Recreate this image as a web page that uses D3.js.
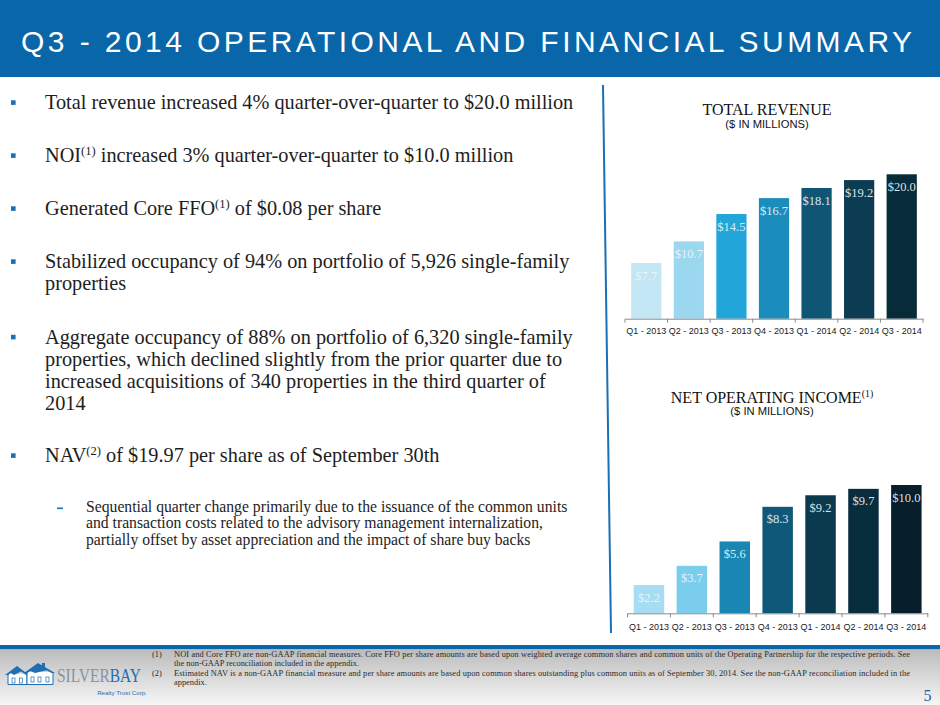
<!DOCTYPE html>
<html>
<head>
<meta charset="utf-8">
<script src="https://cdn.jsdelivr.net/npm/d3@7"></script>
<style>
  body { margin: 0; background: #fff; }
  svg { display: block; }
</style>
</head>
<body>
<svg id="slide" width="940" height="705"></svg>
<script>
// ---- data ----
var quarters = ["Q1 - 2013", "Q2 - 2013", "Q3 - 2013", "Q4 - 2013", "Q1 - 2014", "Q2 - 2014", "Q3 - 2014"];
var revenue = [7.7, 10.7, 14.5, 16.7, 18.1, 19.2, 20.0];
var noi = [2.2, 3.7, 5.6, 8.3, 9.2, 9.7, 10.0];

var revenueColors = ["#c3e6f5", "#9bd8f0", "#22a6d9", "#1b8dbc", "#0f5675", "#0b3c52", "#072b39"];
var noiColors = ["#a7ddf3", "#7bcdee", "#1a86b4", "#0f587a", "#0b3a4f", "#082d3d", "#061f2a"];

// bullet text, {n} marks a superscript footnote reference
var bullets = [
  ["Total revenue increased 4% quarter-over-quarter to $20.0 million"],
  ["NOI{1} increased 3% quarter-over-quarter to $10.0 million"],
  ["Generated Core FFO{1} of $0.08 per share"],
  ["Stabilized occupancy of 94% on portfolio of 5,926 single-family", "properties"],
  ["Aggregate occupancy of 88% on portfolio of 6,320 single-family",
   "properties, which declined slightly from the prior quarter due to",
   "increased acquisitions of 340 properties in the third quarter of",
   "2014"],
  ["NAV{2} of $19.97 per share as of September 30th"]
];
var subBullet = [
  "Sequential quarter change primarily due to the issuance of the common units",
  "and transaction costs related to the advisory management internalization,",
  "partially offset by asset appreciation and the impact of share buy backs"
];
var footnotes = [
  ["(1)", "NOI and Core FFO are non-GAAP financial measures. Core FFO per share amounts are based upon weighted average common shares and common units of the Operating Partnership for the respective periods. See",
          "the non-GAAP reconciliation included in the appendix."],
  ["(2)", "Estimated NAV is a non-GAAP financial measure and per share amounts are based upon common shares outstanding plus common units as of September 30, 2014. See the non-GAAP reconciliation included in the",
          "appendix."]
];

var blue = "#0866a9";
var serif = "'Liberation Serif', 'DejaVu Serif', serif";
var sans = "'Liberation Sans', Arial, sans-serif";

var svg = d3.select("#slide");
var defs = svg.append("defs");

// header band
svg.append("rect").attr("x", 0).attr("y", 0).attr("width", 940).attr("height", 77).attr("fill", blue);
svg.append("text")
  .attr("x", 21).attr("y", 52)
  .attr("textLength", 891).attr("lengthAdjust", "spacing")
  .style("font-family", sans).style("font-size", "30px").style("fill", "#fff")
  .text("Q3 - 2014 OPERATIONAL AND FINANCIAL SUMMARY");

// writes a line, turning {n} into a small raised "(n)"
function richLine(sel, str, size) {
  var parts = str.split(/\{(\d)\}/);
  var shift = size * 0.36, raised = false;
  parts.forEach(function(p, i) {
    if (p === "") return;
    var ts = sel.append("tspan");
    if (i % 2 === 1) {
      ts.attr("dy", -shift).style("font-size", (size * 0.62) + "px").text("(" + p + ")");
      raised = true;
    } else {
      if (raised) { ts.attr("dy", shift); raised = false; }
      ts.text(p);
    }
  });
}

// bullets
var bulletTops = [109, 162, 215, 268, 343.5, 462];
var lineGap = 22.2;
var bodySize = 20.3;
bullets.forEach(function(lines, b) {
  svg.append("rect")
    .attr("x", 11).attr("y", bulletTops[b] - 8.7)
    .attr("width", 4.6).attr("height", 4.6).attr("fill", "#1a6fb5");
  lines.forEach(function(l, j) {
    var t = svg.append("text")
      .attr("x", 45).attr("y", bulletTops[b] + j * lineGap)
      .style("font-family", serif).style("font-size", bodySize + "px").style("fill", "#1e1e1e");
    richLine(t, l, bodySize);
  });
});

svg.append("rect").attr("x", 57).attr("y", 507.5).attr("width", 6).attr("height", 1.6).attr("fill", "#1a6fb5");
subBullet.forEach(function(l, j) {
  svg.append("text")
    .attr("x", 86).attr("y", 511.7 + j * 16.7)
    .style("font-family", serif).style("font-size", "15.7px").style("fill", "#1e1e1e")
    .text(l);
});

// divider
svg.append("line")
  .attr("x1", 603).attr("y1", 85).attr("x2", 611).attr("y2", 633)
  .attr("stroke", "#1a6fb5").attr("stroke-width", 2);

// bar chart panel
function barChart(cfg) {
  var g = svg.append("g");
  var x = d3.scaleBand().domain(quarters).range(cfg.xRange).paddingInner(0.29).paddingOuter(0.145);
  var y = d3.scaleLinear().domain([0, cfg.max]).range([cfg.base, cfg.top]);

  var title = g.append("text")
    .attr("x", cfg.cx).attr("y", cfg.titleY).attr("text-anchor", "middle")
    .style("font-family", serif).style("font-size", "16px").style("fill", "#111");
  richLine(title, cfg.title, 16);
  g.append("text")
    .attr("x", cfg.cx).attr("y", cfg.titleY + 12.7).attr("text-anchor", "middle")
    .style("font-family", sans).style("font-size", "11.2px").style("fill", "#111")
    .text("($ IN MILLIONS)");

  g.selectAll("rect.bar").data(cfg.values).enter().append("rect")
    .attr("class", "bar")
    .attr("x", function(d, i) { return x(quarters[i]); })
    .attr("y", function(d) { return y(d); })
    .attr("width", x.bandwidth())
    .attr("height", function(d) { return y(0) - y(d); })
    .attr("fill", function(d, i) { return cfg.colors[i]; });

  g.selectAll("text.val").data(cfg.values).enter().append("text")
    .attr("class", "val")
    .attr("x", function(d, i) { return x(quarters[i]) + x.bandwidth() / 2; })
    .attr("y", function(d) { return y(d) + 16.5; })
    .attr("text-anchor", "middle")
    .style("font-family", serif).style("font-size", "12.5px")
    .style("fill", "#eef7fc").style("fill-opacity", 0.92)
    .text(function(d) { return "$" + d3.format(".1f")(d); });

  // axis: labels under the bars, ticks on the band edges
  var ax = g.append("g").attr("transform", "translate(0," + y(0) + ")")
    .call(d3.axisBottom(x).tickSize(0).tickSizeOuter(0));
  ax.select(".domain").attr("stroke", "#8a8a8a");
  ax.selectAll("text")
    .attr("dy", null).attr("y", cfg.labelDy)
    .style("font-family", sans).style("font-size", "9px").style("fill", "#1a1a1a");
  ax.selectAll("line.edge").data(d3.range(quarters.length + 1)).enter().append("line")
    .attr("class", "edge")
    .attr("x1", function(i) { return cfg.xRange[0] + i * x.step(); })
    .attr("x2", function(i) { return cfg.xRange[0] + i * x.step(); })
    .attr("y1", 0).attr("y2", 4)
    .attr("stroke", "#8a8a8a");
}

barChart({
  title: "TOTAL REVENUE", cx: 767, titleY: 114.8,
  values: revenue, colors: revenueColors,
  xRange: [625, 923], base: 318.7, top: 174.3, max: 20, labelDy: 15
});
barChart({
  title: "NET OPERATING INCOME{1}", cx: 772, titleY: 402.7,
  values: noi, colors: noiColors,
  xRange: [627.5, 927.8], base: 613.3, top: 485, max: 10, labelDy: 17
});

// footer
var grad = defs.append("linearGradient").attr("id", "foot").attr("x1", 0).attr("y1", 0).attr("x2", 0).attr("y2", 1);
grad.append("stop").attr("offset", "0%").attr("stop-color", "#bcbcbc");
grad.append("stop").attr("offset", "100%").attr("stop-color", "#f6f6f6");
svg.append("rect").attr("x", 0).attr("y", 645).attr("width", 940).attr("height", 4.5).attr("fill", blue);
svg.append("rect").attr("x", 0).attr("y", 649.5).attr("width", 940).attr("height", 55.5).attr("fill", "url(#foot)");

var noteY = [656.7, 675.7];
footnotes.forEach(function(n, k) {
  svg.append("text").attr("x", 152).attr("y", noteY[k])
    .style("font-family", serif).style("font-size", "8.4px").style("fill", "#2a2a2a").text(n[0]);
  svg.append("text").attr("x", 174).attr("y", noteY[k])
    .attr("textLength", 736).attr("lengthAdjust", "spacing")
    .style("font-family", serif).style("font-size", "8.4px").style("fill", "#2a2a2a").text(n[1]);
  svg.append("text").attr("x", 174).attr("y", noteY[k] + 9.2)
    .style("font-family", serif).style("font-size", "8.4px").style("fill", "#2a2a2a").text(n[2]);
});

// logo
var logo = svg.append("g");
var roof = "#1f6fb2";
// small house (left)
logo.append("path").attr("d", "M8,674 L8,684.5 L27,684.5 L27,674").attr("fill", "#fff").attr("stroke", roof).attr("stroke-width", 1);
logo.append("path").attr("d", "M5,675 L17,666 L29,675 L26,675 L17,668.5 L8,675 Z").attr("fill", roof);
logo.append("path").attr("d", "M10,672.5 L17,667.5 L22,671 L14,675 Z").attr("fill", roof);
// big house (right)
logo.append("path").attr("d", "M27,672 L27,684.5 L53,684.5 L53,672").attr("fill", "#fff").attr("stroke", roof).attr("stroke-width", 1);
logo.append("path").attr("d", "M24,673 L38,663 L55,673 L51.5,673 L38,665.5 L27.5,673 Z").attr("fill", roof);
logo.append("path").attr("d", "M29,670.5 L38,664.5 L48,670 L35,673 Z").attr("fill", roof);
logo.append("rect").attr("x", 42).attr("y", 663).attr("width", 3).attr("height", 4).attr("fill", roof);
[[12, 678], [19.5, 678], [31, 677], [38, 677], [46, 677]].forEach(function(w) {
  logo.append("rect").attr("x", w[0]).attr("y", w[1]).attr("width", 3).attr("height", 5)
    .attr("fill", "none").attr("stroke", roof).attr("stroke-width", 0.7);
});
// wordmark, squeezed horizontally like the narrow logo face
var brand = logo.append("g").attr("transform", "translate(57,682) scale(0.86,1)")
  .append("text").attr("x", 0).attr("y", 0)
  .style("font-family", serif).style("font-size", "18px");
brand.append("tspan").style("fill", "#8593a3").text("SILVER");
brand.append("tspan").style("fill", "#1f6fb2").text("BAY");
logo.append("text").attr("x", 147).attr("y", 694.5).attr("text-anchor", "end")
  .style("font-family", sans).style("font-size", "6.2px").style("fill", "#1f6fb2")
  .text("Realty Trust Corp.");

// page number
svg.append("text").attr("x", 927.5).attr("y", 701).attr("text-anchor", "middle")
  .style("font-family", serif).style("font-size", "16px").style("fill", "#1f5f99")
  .text("5");
</script>
</body>
</html>
